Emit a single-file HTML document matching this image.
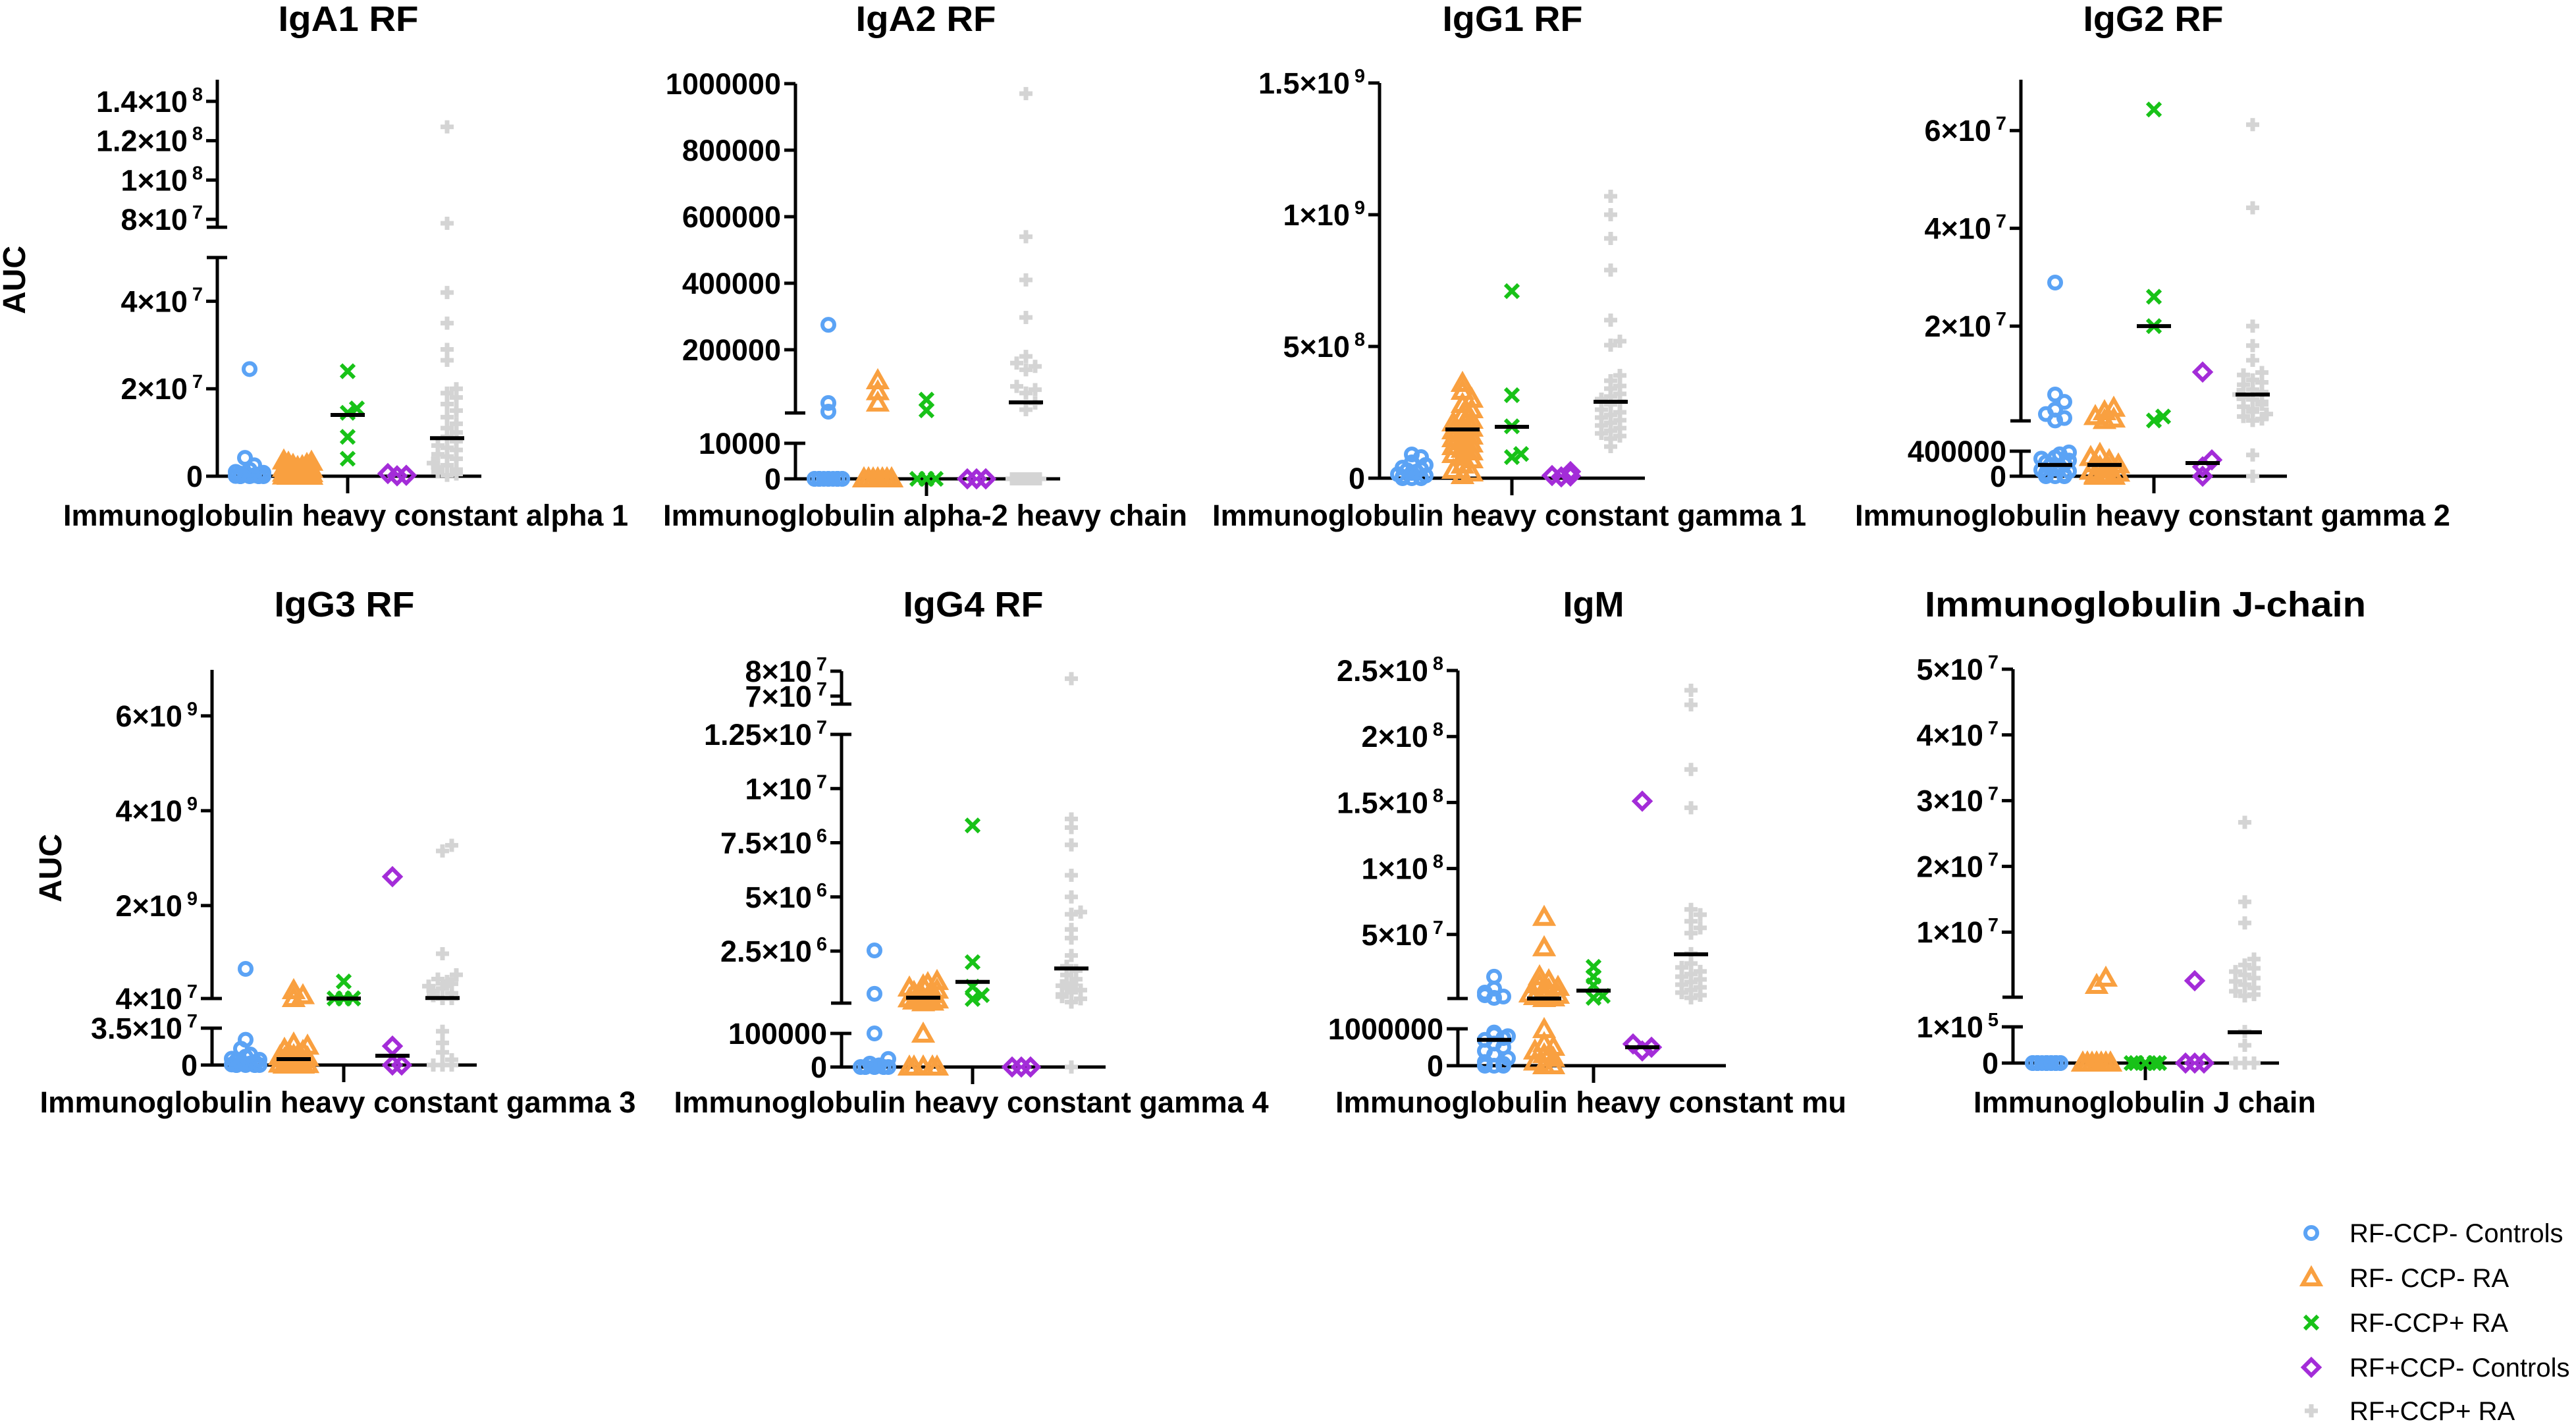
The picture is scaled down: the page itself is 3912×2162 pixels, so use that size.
<!DOCTYPE html>
<html><head><meta charset="utf-8"><style>
html,body{margin:0;padding:0;background:#fff;}
svg{display:block;font-family:"Liberation Sans",Arial,sans-serif;}
</style></head><body>
<svg id="fig" width="3912" height="2162" viewBox="0 0 3912 2162" xmlns="http://www.w3.org/2000/svg">
<rect x="0" y="0" width="3912" height="2162" fill="#fff"/>
<text x="0" y="0" transform="translate(38,425) rotate(-90)" text-anchor="middle" font-weight="bold" font-size="48">AUC</text>
<text x="0" y="0" transform="translate(93,1318) rotate(-90)" text-anchor="middle" font-weight="bold" font-size="48">AUC</text>
<g id="legend"></g>
</svg>
<script>
// ---- Data (AUC values per group: g1 RF-CCP- Controls, g2 RF- CCP- RA, g3 RF-CCP+ RA, g4 RF+CCP- Controls, g5 RF+CCP+ RA)
const groupNames = ["RF-CCP- Controls","RF- CCP- RA","RF-CCP+ RA","RF+CCP- Controls","RF+CCP+ RA"];

const igA1_g1 = [2.45e7,4.2e6,2.5e6,1.5e6,1e6,8e5,6e5,4e5,3e5,2e5,1e5,5e4,0,0,0,0,0,0];
const igA1_g2 = [3.5e6,3.2e6,3e6,2.7e6,2.5e6,2.2e6,2e6,1.8e6,1.6e6,1.4e6,1.2e6,1e6,9e5,8e5,7e5,6e5,5e5,4e5,3e5,2e5,1e5,5e4,0,0,0,0,0,0];
const igA1_g3 = [2.4e7,1.55e7,1.45e7,9e6,4e6];
const igA1_g4 = [6e5,2e5,1e5];
const igA1_g5 = [1.27e8,7.8e7,4.2e7,3.5e7,2.9e7,2.65e7,2e7,1.9e7,1.8e7,1.65e7,1.5e7,1.35e7,1.2e7,1.1e7,1e7,9e6,8e6,7e6,6.5e6,6e6,5e6,4.5e6,4e6,3e6,2.5e6,2e6,1.5e6,1e6,5e5,2e5];
const igA1_med = [null,null,1.4e7,null,8.7e6];

const igA2_g1 = [2.75e5,4e4,1.4e4,0,0,0,0,0,0,0,0,0,0,0,0,0,0];
const igA2_g2 = [1.07e5,7.4e4,4e4,0,0,0,0,0,0,0,0,0,0,0,0,0,0,0,0];
const igA2_g3 = [5e4,1.8e4,0,0,0];
const igA2_g4 = [0,0,0,0];
const igA2_g5 = [9.7e5,5.4e5,4.1e5,2.97e5,1.8e5,1.6e5,1.5e5,1.4e5,9e4,8e4,7e4,4e4,2e4,0,0,0,0,0,0,0,0,0,0,0];
const igA2_med = [null,null,null,null,4.2e4];

const igG1_g1 = [9e7,8e7,6e7,5e7,4e7,3.5e7,3e7,2.5e7,2e7,1.5e7,1e7,5e6,2e6,0,0,0];
const igG1_g2 = [3.6e8,3.3e8,3.0e8,2.8e8,2.6e8,2.4e8,2.2e8,2.1e8,2e8,1.9e8,1.8e8,1.7e8,1.6e8,1.5e8,1.4e8,1.3e8,1.2e8,1.1e8,1e8,9e7,8e7,7e7,5e7,3e7,2e7,1e7];
const igG1_g3 = [7.1e8,3.15e8,1.97e8,9.2e7,8e7];
const igG1_g4 = [2.5e7,1e7,8e6,5e6];
const igG1_g5 = [1.07e9,1.0e9,9.1e8,7.9e8,6e8,5.2e8,5.05e8,3.9e8,3.7e8,3.5e8,3.4e8,3.2e8,3.1e8,3e8,2.9e8,2.8e8,2.6e8,2.5e8,2.4e8,2.3e8,2.2e8,2.1e8,2e8,1.9e8,1.8e8,1.7e8,1.6e8,1.5e8,1.2e8];
const igG1_med = [null,1.85e8,1.95e8,null,2.9e8];

const igG2_g1 = [2.89e7,6e6,4.5e6,2.9e6,2e6,1.2e6,7e5,3.8e5,3.5e5,3e5,2.8e5,2.5e5,2.2e5,2e5,1.8e5,1.5e5,1.2e5,1e5,8e4,5e4,2e4,0,0,0];
const igG2_g2 = [3.2e6,2.5e6,1.5e6,1e6,7e5,3.5e5,3e5,2.5e5,2e5,1.8e5,1.5e5,1.2e5,1e5,8e4,5e4,2e4,0,0,0,0];
const igG2_g3 = [6.43e7,2.6e7,2e7,1.5e6,7e5];
const igG2_g4 = [1.06e7,2.6e5,1.5e5,0];
const igG2_g5 = [6.12e7,4.42e7,2e7,1.6e7,1.3e7,1.05e7,1e7,9e6,8.5e6,8e6,7e6,6.5e6,6e6,5.5e6,5e6,4.5e6,4e6,3.5e6,3e6,2.5e6,2e6,1.5e6,1e6,7e5,3.4e5,0];
const igG2_med = [1.8e5,1.8e5,2e7,2.1e5,6e6];

const igG3_g1 = [6.65e8,2.4e7,1.55e7,1e7,8e6,6e6,5e6,4e6,3e6,2e6,1.5e6,1e6,5e5,0,0,0,0,0,0];
const igG3_g2 = [2.07e8,1e8,4e7,2e7,1.8e7,1.5e7,1.3e7,1.1e7,1e7,9e6,8e6,7e6,6e6,5e6,4e6,3e6,2e6,1e6,5e5,0,0,0,0,0];
const igG3_g3 = [4e8,4.5e7,4.2e7,4e7,4e7];
const igG3_g4 = [2.61e9,1.8e7,0,0];
const igG3_g5 = [3.27e9,3.15e9,9.85e8,5.4e8,4.5e8,4e8,3.5e8,3e8,2.5e8,2e8,1.5e8,1e8,4e7,4e7,3.2e7,2.1e7,1.2e7,5e6,0,0,0];
const igG3_med = [null,5.6e6,4e7,8.8e6,5e7];

const igG4_g1 = [2.53e6,5.3e5,1e5,2.4e4,1e4,5e3,0,0,0,0,0,0,0,0];
const igG4_g2 = [1.1e6,1e6,9e5,8e5,7e5,6e5,5e5,4.5e5,4e5,3.5e5,3e5,2.5e5,2e5,1.5e5,1.2e5,9.8e4,0,0,0,0,0,0,0,0];
const igG4_g3 = [8.3e6,1.99e6,8.6e5,4.7e5,2.9e5];
const igG4_g4 = [0,0,0,0];
const igG4_g5 = [7.7e7,8.6e6,8.2e6,7.4e6,6e6,5e6,4.3e6,4.2e6,3.5e6,3.1e6,2.3e6,1.8e6,1.6e6,1.4e6,1.2e6,1e6,9e5,8e5,7e5,6e5,5e5,4e5,3e5,1.5e5,0];
const igG4_med = [null,3.5e5,1.08e6,null,1.7e6];

const igM_g1 = [1.8e7,9e6,6e6,4e6,3e6,2e6,9e5,8.5e5,8e5,7.5e5,7e5,6e5,5e5,4e5,3e5,2e5,1e5,5e4,0,0,0];
const igM_g2 = [6.3e7,4e7,1.8e7,1.5e7,1.2e7,1e7,8e6,6e6,5e6,4e6,3e6,2e6,1.5e6,9.8e5,6e5,5e5,4e5,3e5,2e5,1e5,0,0];
const igM_g3 = [2.55e7,1.8e7,1.15e7,3.5e6,2e6];
const igM_g4 = [1.51e8,5.9e5,5e5,4e5];
const igM_g5 = [2.35e8,2.24e8,1.75e8,1.46e8,6.9e7,6.5e7,6e7,5.5e7,5.1e7,3.55e7,2.8e7,2.5e7,2.2e7,2e7,1.8e7,1.6e7,1.4e7,1.2e7,1e7,8e6,6e6,4e6,2e6];
const igM_med = [7e5,1.5e6,7.5e6,5e5,3.5e7];

const igJ_g1 = [0,0,0,0,0,0,0,0,0,0,0,0,0,0,0,0];
const igJ_g2 = [3e6,1.9e6,0,0,0,0,0,0,0,0,0,0,0,0,0,0,0,0];
const igJ_g3 = [0,0,0,0,0,0,0,0];
const igJ_g4 = [2.6e6,0,0,0];
const igJ_g5 = [2.67e7,1.46e7,1.14e7,5.9e6,5e6,4.5e6,4e6,3.5e6,3e6,2.5e6,2e6,1.5e6,1e6,5e5,3e5,8.7e4,4.9e4,0,0,0,0,0];
const igJ_med = [null,null,null,null,8.5e4];

// tick values and labels [value, base, exponent]
const igA1_ticks = [[0,"0",""],[2e7,"2×10","7"],[4e7,"4×10","7"],[8e7,"8×10","7"],[1e8,"1×10","8"],[1.2e8,"1.2×10","8"],[1.4e8,"1.4×10","8"]];
const igA2_ticks = [[0,"0",""],[1e4,"10000",""],[2e5,"200000",""],[4e5,"400000",""],[6e5,"600000",""],[8e5,"800000",""],[1e6,"1000000",""]];
const igG1_ticks = [[0,"0",""],[5e8,"5×10","8"],[1e9,"1×10","9"],[1.5e9,"1.5×10","9"]];
const igG2_ticks = [[0,"0",""],[4e5,"400000",""],[2e7,"2×10","7"],[4e7,"4×10","7"],[6e7,"6×10","7"]];
const igG3_ticks = [[0,"0",""],[3.5e7,"3.5×10","7"],[4e7,"4×10","7"],[2e9,"2×10","9"],[4e9,"4×10","9"],[6e9,"6×10","9"]];
const igG4_ticks = [[0,"0",""],[1e5,"100000",""],[2.5e6,"2.5×10","6"],[5e6,"5×10","6"],[7.5e6,"7.5×10","6"],[1e7,"1×10","7"],[1.25e7,"1.25×10","7"],[7e7,"7×10","7"],[8e7,"8×10","7"]];
const igM_ticks = [[0,"0",""],[1e6,"1000000",""],[5e7,"5×10","7"],[1e8,"1×10","8"],[1.5e8,"1.5×10","8"],[2e8,"2×10","8"],[2.5e8,"2.5×10","8"]];
const igJ_ticks = [[0,"0",""],[1e5,"1×10","5"],[1e7,"1×10","7"],[2e7,"2×10","7"],[3e7,"3×10","7"],[4e7,"4×10","7"],[5e7,"5×10","7"]];

// ---- Layout (pixel geometry, separate from data)
const panels = [
 {id:"iga1",title:"IgA1 RF",xlabel:"Immunoglobulin heavy constant alpha 1",ax:330,x1:731,ty:47,tx:529,tw:213,lx:525,ly:798,lw:858,
  segs:[[0,5e7,723,391],[7.6e7,1.51e8,345,121]],gx:[379,452,528,603,679],data:[igA1_g1,igA1_g2,igA1_g3,igA1_g4,igA1_g5],med:igA1_med,ticks:igA1_ticks},
 {id:"iga2",title:"IgA2 RF",xlabel:"Immunoglobulin alpha-2 heavy chain",ax:1208,x1:1610,ty:47,tx:1406,tw:213,lx:1405,ly:798,lw:796,
  segs:[[0,1e4,727,673],[1e4,1e6,627,127]],gx:[1258,1333,1407,1483,1558],data:[igA2_g1,igA2_g2,igA2_g3,igA2_g4,igA2_g5],med:igA2_med,ticks:igA2_ticks},
 {id:"igg1",title:"IgG1 RF",xlabel:"Immunoglobulin heavy constant gamma 1",ax:2095,x1:2498,ty:47,tx:2297,tw:213,lx:2292,ly:798,lw:902,
  segs:[[0,1.5e9,726,126]],gx:[2144,2221,2296,2371,2446],data:[igG1_g1,igG1_g2,igG1_g3,igG1_g4,igG1_g5],med:igG1_med,ticks:igG1_ticks},
 {id:"igg2",title:"IgG2 RF",xlabel:"Immunoglobulin heavy constant gamma 2",ax:3069,x1:3473,ty:47,tx:3270,tw:213,lx:3269,ly:798,lw:904,
  segs:[[0,4e5,723,685],[6.1e5,7.04e7,639,121]],gx:[3121,3196,3271,3345,3421],data:[igG2_g1,igG2_g2,igG2_g3,igG2_g4,igG2_g5],med:igG2_med,ticks:igG2_ticks},
 {id:"igg3",title:"IgG3 RF",xlabel:"Immunoglobulin heavy constant gamma 3",ax:322,x1:724,ty:936,tx:523,tw:213,lx:513,ly:1689,lw:905,
  segs:[[0,3.5e7,1617,1561],[4e7,6.97e9,1516,1017]],gx:[373,446,522,596,672],data:[igG3_g1,igG3_g2,igG3_g3,igG3_g4,igG3_g5],med:igG3_med,ticks:igG3_ticks},
 {id:"igg4",title:"IgG4 RF",xlabel:"Immunoglobulin heavy constant gamma 4",ax:1278,x1:1679,ty:936,tx:1478,tw:213,lx:1475,ly:1689,lw:903,
  segs:[[0,1e5,1620,1569],[1e5,1.25e7,1523,1115],[6.68e7,8e7,1069,1019]],gx:[1328,1402,1477,1551,1627],data:[igG4_g1,igG4_g2,igG4_g3,igG4_g4,igG4_g5],med:igG4_med,ticks:igG4_ticks},
 {id:"igm",title:"IgM",xlabel:"Immunoglobulin heavy constant mu",ax:2214,x1:2621,ty:936,tx:2420,tw:0,lx:2416,ly:1689,lw:776,
  segs:[[0,1e6,1618,1562],[1.5e6,2.5e8,1516,1018]],gx:[2269,2345,2420,2494,2568],data:[igM_g1,igM_g2,igM_g3,igM_g4,igM_g5],med:igM_med,ticks:igM_ticks},
 {id:"igj",title:"Immunoglobulin J-chain",xlabel:"Immunoglobulin J chain",ax:3057,x1:3461,ty:936,tx:3258,tw:670,lx:3257,ly:1689,lw:520,
  segs:[[0,1e5,1614,1559],[1e5,5e7,1514,1016]],gx:[3108,3184,3258,3333,3409],data:[igJ_g1,igJ_g2,igJ_g3,igJ_g4,igJ_g5],med:igJ_med,ticks:igJ_ticks}
];
const colors = ["#5BA3F5","#F9A040","#18C218","#A32CD8","#D4D4D4"];
const NS = "http://www.w3.org/2000/svg";
const svg = document.getElementById("fig");

function mk(tag, attrs, parent){
  const e = document.createElementNS(NS, tag);
  for (const k in attrs) e.setAttribute(k, attrs[k]);
  parent.appendChild(e);
  return e;
}
function makeScale(segs){
  return function(v){
    for (let k=0;k<segs.length;k++){
      const s = segs[k];
      if (v >= s[0] && v <= s[1]) return s[2] + (v - s[0])/(s[1]-s[0])*(s[3]-s[2]);
      if (v < s[0]) return s[2];
    }
    return segs[segs.length-1][3];
  };
}
function marker(type, x, y, parent){
  const c = colors[type];
  let e;
  if (type===0){ e = mk("circle",{cx:x,cy:y,r:9,fill:"none",stroke:c,"stroke-width":6},parent); }
  else if (type===1){ e = mk("path",{d:`M${x},${y-13} L${x+13},${y+10} L${x-13},${y+10} Z`,fill:"none",stroke:c,"stroke-width":6,"stroke-linejoin":"miter"},parent); }
  else if (type===2){ e = mk("path",{d:`M${x-10},${y-10} L${x+10},${y+10} M${x+10},${y-10} L${x-10},${y+10}`,fill:"none",stroke:c,"stroke-width":6},parent); }
  else if (type===3){ e = mk("path",{d:`M${x},${y-12} L${x+12},${y} L${x},${y+12} L${x-12},${y} Z`,fill:"none",stroke:c,"stroke-width":6},parent); }
  else { e = mk("path",{d:`M${x-10},${y} L${x+10},${y} M${x},${y-10} L${x},${y+10}`,fill:"none",stroke:c,"stroke-width":7},parent); }
  return e;
}

panels.forEach(function(p){
  const g = mk("g",{},svg);
  
  
  const y = makeScale(p.segs);
  const zeroY = y(0);

  const t = mk("text",{x:p.tx,y:p.ty,"text-anchor":"middle","font-weight":"bold","font-size":54},g);
  if (p.tw) { t.setAttribute("textLength", p.tw); t.setAttribute("lengthAdjust","spacingAndGlyphs"); }
  t.textContent = p.title;
  
  

  const xl = mk("text",{x:p.lx,y:p.ly,"text-anchor":"middle","font-weight":"bold","font-size":45,textLength:p.lw,lengthAdjust:"spacingAndGlyphs"},g);
  xl.textContent = p.xlabel;
  
  

  p.segs.forEach(function(s, k){
    const ln = mk("line",{x1:p.ax,x2:p.ax,y1:s[2]+2.5,y2:s[3],stroke:"#000","stroke-width":5},g);
    
    
    if (k>0){
      const cap = mk("line",{x1:p.ax-16,x2:p.ax+15,y1:s[2],y2:s[2],stroke:"#000","stroke-width":5},g);
      
      
    }
    if (k<p.segs.length-1){
      const cap2 = mk("line",{x1:p.ax-16,x2:p.ax+15,y1:s[3],y2:s[3],stroke:"#000","stroke-width":5},g);
      
      
    }
  });

  const xa = mk("line",{x1:p.ax-17,x2:p.x1,y1:zeroY,y2:zeroY,stroke:"#000","stroke-width":5},g);
  
  
  const xt = mk("line",{x1:p.gx[2],x2:p.gx[2],y1:zeroY,y2:zeroY+26,stroke:"#000","stroke-width":5},g);
  
  

  p.ticks.forEach(function(tk){
    const ty = y(tk[0]);
    const tl = mk("line",{x1:p.ax-17,x2:p.ax,y1:ty,y2:ty,stroke:"#000","stroke-width":5},g);
    
    
    const lab = mk("text",{x:p.ax-22,y:ty+16,"text-anchor":"end","font-weight":"bold","font-size":45},g);
    
    
    const b = mk("tspan",{},lab); b.textContent = tk[1];
    if (tk[2]){
      const sp = mk("tspan",{dx:7,dy:-17,"font-size":29},lab); sp.textContent = tk[2];
    }
  });

  for (let gi=0; gi<5; gi++){
    const gg = mk("g",{},g);
    
    
    const placed = [];
    const pts = p.data[gi].map(function(v){ return y(v); }).sort(function(a,b){return b-a;});
    const offs = [0,7,-7,14,-14,21,-21];
    pts.forEach(function(py, i){
      let best = offs[i % offs.length];
      for (let o of offs){
        let ok = true;
        for (const q of placed){ if (Math.abs(q[1]-py)<12 && Math.abs(q[0]-o)<12){ ok=false; break; } }
        if (ok){ best=o; break; }
      }
      placed.push([best,py]);
      const m = marker(gi, p.gx[gi]+best, py, gg);
      
      
    });
  }
  p.med.forEach(function(v, gi){
    if (v===null) return;
    const my = y(v);
    const ml = mk("line",{x1:p.gx[gi]-26,x2:p.gx[gi]+26,y1:my,y2:my,stroke:"#000","stroke-width":6},g);
    
    
  });
});

const leg = document.getElementById("legend");
const legY = [1872,1940,2008,2076,2142];
groupNames.forEach(function(n, i){
  const it = mk("g",{},leg);
  
  
  const m = marker(i, 3510, legY[i], it);
  
  
  const tx = mk("text",{x:3568,y:legY[i]+14,"font-size":40},it);
  tx.textContent = n;
  
  
});
</script>
</body></html>
